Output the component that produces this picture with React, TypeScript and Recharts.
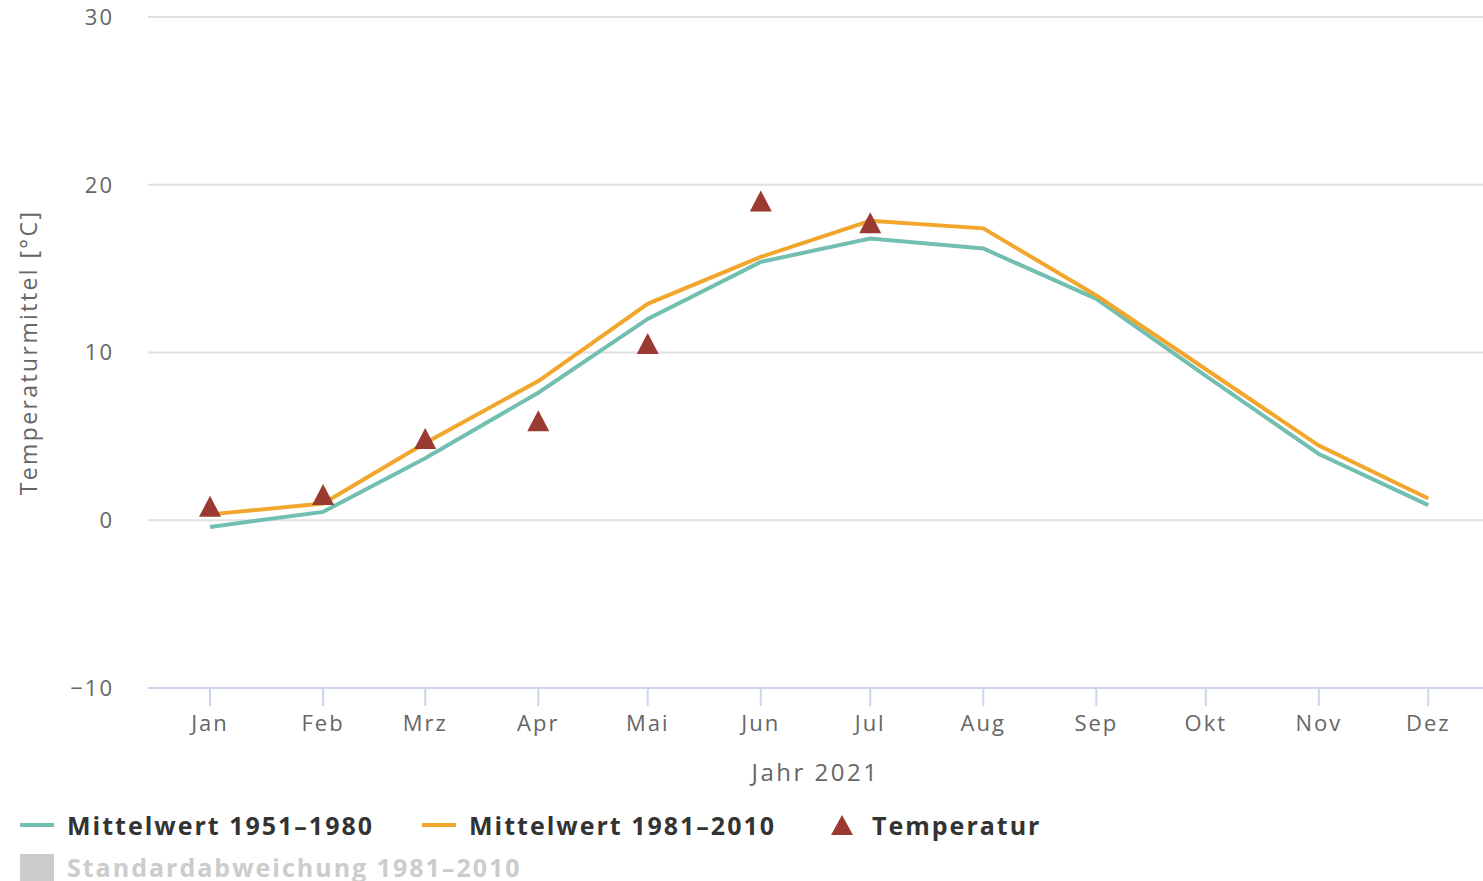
import React from 'react';
import { ComposedChart, Line, Scatter, XAxis, YAxis, CartesianGrid, Legend, Label } from 'recharts';

// month ticks sit on the day of year, so spacing follows month length
const months = ['Jan', 'Feb', 'Mrz', 'Apr', 'Mai', 'Jun', 'Jul', 'Aug', 'Sep', 'Okt', 'Nov', 'Dez'];
const monthDays = [0, 31, 59, 90, 120, 151, 181, 212, 243, 273, 304, 334];
const mean1951 = [-0.4, 0.5, 3.7, 7.6, 12.0, 15.4, 16.8, 16.2, 13.2, 8.6, 3.95, 0.9];
const mean1981 = [0.35, 1.0, 4.6, 8.3, 12.9, 15.7, 17.85, 17.4, 13.4, 9.0, 4.45, 1.3];
const temp2021 = [0.8, 1.5, 4.85, 5.9, 10.5, 19.0, 17.7];
const yTicks = [-10, 0, 10, 20, 30];

const FONT = '"Open Sans", sans-serif';
const TEAL = '#72bfb2';
const ORANGE = '#f2a62b';
const RED = '#9b3a30';

const lineData = monthDays.map((day, i) => ({
  day,
  m1951: mean1951[i],
  m1981: mean1981[i],
}));

const tempData = temp2021.map((t, i) => ({ day: monthDays[i], temp: t }));

const Triangle = (props: any) => {
  const { cx, cy } = props;
  if (cx == null || cy == null) return null;
  const r = 11;
  return (
    <polygon
      points={`${cx},${cy - r} ${cx + r},${cy + r - 1} ${cx - r},${cy + r - 1}`}
      fill={RED}
    />
  );
};

const YLabel = (props: any) => {
  const { viewBox } = props;
  const cy = viewBox.y + viewBox.height / 2;
  return (
    <text
      x={37}
      y={cy}
      transform={`rotate(-90, 37, ${cy})`}
      textAnchor="middle"
      fill="#666"
      fontSize={23}
      fontFamily={FONT}
      letterSpacing={2.4}
    >
      Temperaturmittel [°C]
    </text>
  );
};

const LegendBox = () => {
  const text = {
    fontFamily: FONT,
    fontSize: 25,
    fontWeight: 700 as const,
    color: '#333',
    whiteSpace: 'nowrap' as const,
    letterSpacing: '2px',
  };
  const lineSym = (c: string) => (
    <span style={{ display: 'inline-block', width: 34, height: 4, background: c, marginRight: 13, verticalAlign: 'middle' }} />
  );
  return (
    <div style={{ position: 'relative', width: 1483, height: 90 }}>
      <div style={{ position: 'absolute', left: 20, top: 8, display: 'flex', alignItems: 'center', ...text }}>
        {lineSym(TEAL)}Mittelwert 1951–1980
      </div>
      <div style={{ position: 'absolute', left: 422, top: 8, display: 'flex', alignItems: 'center', ...text }}>
        {lineSym(ORANGE)}Mittelwert 1981–2010
      </div>
      <div style={{ position: 'absolute', left: 831, top: 8, display: 'flex', alignItems: 'center', ...text }}>
        <svg width={22} height={20} style={{ marginRight: 19 }}>
          <polygon points="11,0 22,20 0,20" fill={RED} />
        </svg>
        Temperatur
      </div>
      <div style={{ position: 'absolute', left: 20, top: 50, display: 'flex', alignItems: 'center', ...text, color: '#cccccc' }}>
        <span style={{ display: 'inline-block', width: 34, height: 27, background: '#cccccc', marginRight: 13 }} />
        Standardabweichung 1981–2010
      </div>
    </div>
  );
};

export default function App() {
  return (
    <div style={{ position: 'absolute', left: 0, top: 0, width: 1483, height: 881, background: '#fff', overflow: 'hidden' }}>
      <ComposedChart width={1483} height={881} margin={{ top: 17, right: 0, left: 0, bottom: 93 }}>
        <CartesianGrid horizontal vertical={false} stroke="#e0e0e0" strokeWidth={2} />
        <XAxis
          type="number"
          dataKey="day"
          domain={[-17, 349]}
          ticks={monthDays}
          tickFormatter={(d: number) => months[monthDays.indexOf(d)]}
          height={100}
          stroke="#ccd6eb"
          strokeWidth={2}
          tickSize={18}
          tickMargin={9}
          tick={{ fill: '#666', fontSize: 22, fontFamily: FONT, letterSpacing: 2 }}
          allowDataOverflow
        >
          <Label value="Jahr 2021" position="insideBottom" offset={7} fill="#666" fontSize={24} fontFamily={FONT} letterSpacing={2.5} />
        </XAxis>
        <YAxis
          type="number"
          domain={[-10, 30]}
          ticks={yTicks}
          width={148}
          axisLine={false}
          tickLine={false}
          tickSize={0}
          tickMargin={34}
          tickFormatter={(v: number) => (v < 0 ? '−' + Math.abs(v) : String(v))}
          tick={{ fill: '#666', fontSize: 22, fontFamily: FONT, letterSpacing: 2 }}
        >
          <Label content={<YLabel />} />
        </YAxis>
        <Legend
          layout="horizontal"
          verticalAlign="middle"
          align="center"
          wrapperStyle={{ top: 800, left: 0, width: 1483 }}
          content={() => <LegendBox />}
        />
        <Line
          data={lineData}
          dataKey="m1951"
          type="linear"
          stroke={TEAL}
          strokeWidth={4}
          dot={false}
          activeDot={false}
          isAnimationActive={false}
        />
        <Line
          data={lineData}
          dataKey="m1981"
          type="linear"
          stroke={ORANGE}
          strokeWidth={4}
          dot={false}
          activeDot={false}
          isAnimationActive={false}
        />
        <Scatter data={tempData} dataKey="temp" shape={<Triangle />} isAnimationActive={false} />
      </ComposedChart>
    </div>
  );
}
